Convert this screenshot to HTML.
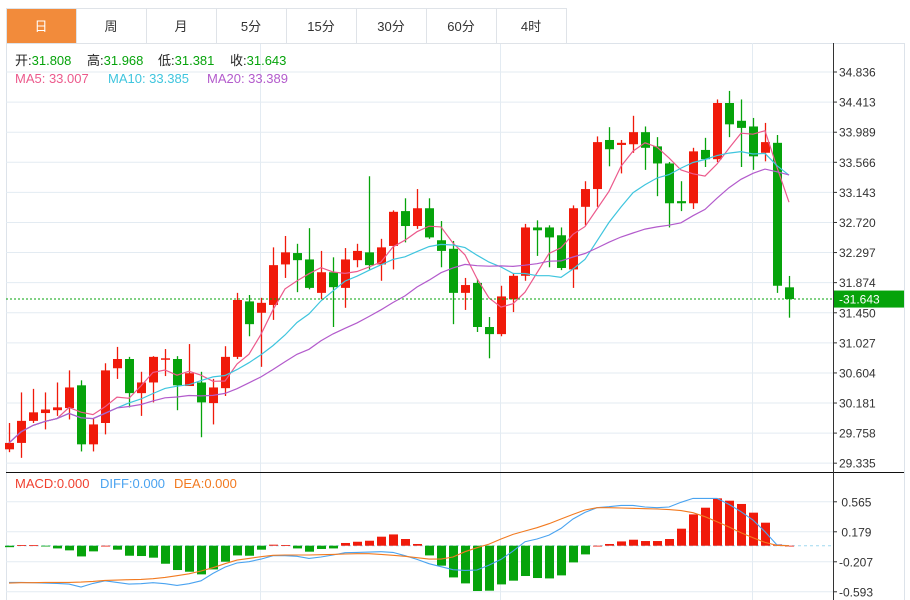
<!DOCTYPE html>
<html><head><meta charset="utf-8"><style>
body{margin:0;background:#fff;font-family:"Liberation Sans","Noto Sans CJK SC",sans-serif;}
svg{display:block}
</style></head><body>
<svg id="c" width="910" height="600" xmlns="http://www.w3.org/2000/svg" font-family="Liberation Sans, Noto Sans CJK SC, sans-serif"></svg>
<script>
const opens=[29.53,29.62,29.93,30.04,30.08,30.11,30.43,29.60,29.90,30.67,30.80,30.32,30.47,30.80,30.80,30.42,30.47,30.18,30.39,30.83,31.61,31.45,31.56,32.13,32.29,32.20,31.73,32.02,31.80,32.19,32.30,32.13,32.39,32.88,32.67,32.92,32.47,32.35,31.73,31.87,31.25,31.15,31.64,31.97,32.65,32.65,32.54,32.06,32.94,33.19,33.88,33.81,33.82,33.99,33.79,33.55,33.02,32.99,33.74,33.61,34.40,34.15,34.07,33.70,33.84,31.808];
const highs=[29.90,30.33,30.38,30.33,30.47,30.64,30.50,29.97,30.74,30.97,30.83,30.62,30.84,30.94,30.84,31.01,30.62,30.52,30.98,31.73,31.70,31.66,32.37,32.53,32.42,32.64,32.32,32.23,32.36,32.42,33.37,32.49,32.89,33.06,33.19,33.06,32.74,32.46,31.94,31.92,31.39,31.83,32.01,32.70,32.75,32.68,32.65,32.96,33.30,33.93,34.06,33.88,34.22,34.07,33.92,33.57,33.30,33.77,33.91,34.45,34.57,34.45,34.19,34.12,33.95,31.968];
const lows=[29.49,29.41,29.90,29.81,30.00,29.95,29.50,29.50,29.74,30.52,30.12,30.00,30.19,30.56,30.08,30.52,29.70,29.88,30.28,30.80,31.12,30.69,31.35,31.94,31.74,31.78,31.64,31.25,31.52,32.09,32.06,31.90,32.06,32.44,32.63,32.49,32.09,31.29,31.49,31.18,30.81,31.12,31.46,31.90,32.25,32.09,32.05,31.80,32.68,32.94,33.51,33.41,33.70,33.46,33.09,32.65,32.88,32.91,33.50,33.57,33.92,33.50,33.46,33.58,31.73,31.381];
const closes=[29.62,29.93,30.05,30.09,30.12,30.40,29.60,29.88,30.64,30.80,30.32,30.47,30.83,30.81,30.43,30.60,30.19,30.40,30.83,31.63,31.29,31.59,32.12,32.30,32.19,31.80,32.02,31.81,32.20,32.32,32.12,32.37,32.87,32.67,32.92,32.51,32.32,31.73,31.84,31.25,31.15,31.68,31.97,32.65,32.61,32.51,32.08,32.92,33.19,33.85,33.75,33.84,33.99,33.77,33.55,32.99,32.99,33.72,33.61,34.40,34.10,34.05,33.65,33.85,31.83,31.643];
const diffVals=[-0.472,-0.472,-0.476,-0.481,-0.485,-0.494,-0.532,-0.485,-0.451,-0.472,-0.494,-0.489,-0.476,-0.489,-0.511,-0.489,-0.451,-0.356,-0.275,-0.223,-0.206,-0.172,-0.129,-0.129,-0.137,-0.163,-0.146,-0.120,-0.090,-0.086,-0.082,-0.077,-0.086,-0.129,-0.176,-0.232,-0.270,-0.309,-0.318,-0.313,-0.249,-0.176,-0.069,0.052,0.086,0.137,0.223,0.343,0.429,0.489,0.502,0.519,0.519,0.498,0.489,0.498,0.558,0.609,0.609,0.609,0.532,0.438,0.330,0.180,0.009,0.000];
const deaVals=[-0.481,-0.476,-0.476,-0.472,-0.472,-0.472,-0.468,-0.459,-0.446,-0.442,-0.438,-0.433,-0.425,-0.408,-0.386,-0.361,-0.326,-0.283,-0.232,-0.185,-0.163,-0.142,-0.124,-0.120,-0.120,-0.120,-0.116,-0.112,-0.107,-0.103,-0.103,-0.112,-0.124,-0.137,-0.155,-0.172,-0.172,-0.146,-0.077,-0.026,0.021,0.086,0.146,0.189,0.232,0.283,0.343,0.403,0.459,0.489,0.489,0.485,0.481,0.476,0.472,0.464,0.451,0.425,0.373,0.309,0.240,0.167,0.103,0.043,0.004,0.000];
const macdVals=[-0.019,0.009,0.006,-0.006,-0.035,-0.060,-0.138,-0.073,0,-0.051,-0.129,-0.133,-0.154,-0.232,-0.313,-0.335,-0.369,-0.305,-0.206,-0.125,-0.129,-0.051,0.013,0.009,-0.035,-0.077,-0.042,-0.035,0.035,0.051,0.064,0.116,0.145,0.086,0.022,-0.125,-0.257,-0.408,-0.485,-0.583,-0.579,-0.498,-0.450,-0.390,-0.416,-0.421,-0.382,-0.215,-0.112,0,0.022,0.055,0.077,0.060,0.060,0.086,0.219,0.403,0.489,0.609,0.579,0.537,0.425,0.296,0.017,0];
const priceTicks=[34.836,34.413,33.989,33.566,33.143,32.720,32.297,31.874,31.450,31.027,30.604,30.181,29.758,29.335];
const macdTicks=[0.565,0.179,-0.207,-0.593];
const tabLabels=["日","周","月","5分","15分","30分","60分","4时"];

const NS="http://www.w3.org/2000/svg";
const svg=document.getElementById('c');
function mk(tag,attrs,parent){const e=document.createElementNS(NS,tag);for(const k in attrs)e.setAttribute(k,attrs[k]);(parent||svg).appendChild(e);return e;}
const RED="#f01a0a",GREEN="#06a30b";
const L=6,R=833;
const yP=p=>72+(34.836-p)*(30.08/0.423);
const yM=v=>545.7-v*(30/0.386);
const xI=i=>9+i*12;

let fr=mk('rect',{x:6.5,y:43.5,width:898,height:560,fill:'none',stroke:'#dde3ea'});


priceTicks.forEach(t=>{let g=mk('line',{x1:L,x2:R,y1:yP(t),y2:yP(t),stroke:'#e3ebf2','stroke-width':1});

});
macdTicks.forEach(t=>{let g=mk('line',{x1:L,x2:R,y1:yM(t),y2:yM(t),stroke:'#e3ebf2'});

});
[260,500,752].forEach(x=>{let g=mk('line',{x1:x+0.5,x2:x+0.5,y1:43,y2:600,stroke:'#e3ebf2'});

});

tabLabels.forEach((t,i)=>{const x=6+i*70;
 let r=mk('rect',{x:x+0.5,y:8.5,width:70,height:35,fill:i==0?'#f28b3b':'#fff',stroke:'#dfe3e8'});
 
 
 let tx=mk('text',{x:x+35,y:31,'text-anchor':'middle','font-size':13,fill:i==0?'#fff':'#333'});tx.textContent=t;
 
 
});

function legend(parts,y,name){let t=mk('text',{y:y,'font-size':13});
 parts.forEach(([s,c,x])=>{let a={fill:c};if(x!==undefined)a.x=x;let ts=mk('tspan',a,t);ts.textContent=s;});}
legend([["开:","#222",15],["31.808",GREEN],["高:","#222",87],["31.968",GREEN],["低:","#222",158],["31.381",GREEN],["收:","#222",230],["31.643",GREEN]],65,'ohlc-legend');
legend([["MA5: 33.007","#ec5a8c",15],["MA10: 33.385","#3fc5de",108],["MA20: 33.389","#b35bcc",207]],83,'ma-legend');
legend([["MACD:0.000","#f0402f",15],["DIFF:0.000","#4aa3f0",100],["DEA:0.000","#f27a20",174]],488,'macd-legend');

closes.forEach((c,i)=>{const o=opens[i],up=c>=o,col=up?RED:GREEN,x=xI(i);
 let w=mk('line',{x1:x+0.5,x2:x+0.5,y1:yP(highs[i]),y2:yP(lows[i]),stroke:col,'stroke-width':1.3});
 
 
 const top=yP(Math.max(o,c)),bot=yP(Math.min(o,c));
 let b=mk('rect',{x:x-4,y:top,width:9,height:Math.max(1.5,bot-top),fill:col});
 
 
});
function ma(n){return closes.map((_,i)=>{const s=closes.slice(Math.max(0,i-n+1),i+1);return s.reduce((a,b)=>a+b,0)/s.length;});}
[[5,'#ec5a8c'],[10,'#3fc5de'],[20,'#b35bcc']].forEach(([n,c])=>{
 const d=ma(n).map((v,i)=>(i?'L':'M')+xI(i)+','+yP(v).toFixed(1)).join('');
 let p=mk('path',{d:d,fill:'none',stroke:c,'stroke-width':1.2});
 
 
});
const lastY=yP(closes[closes.length-1]);
let lp=mk('line',{x1:L,x2:R,y1:lastY,y2:lastY,stroke:GREEN,'stroke-dasharray':'2,2'});



let zl=mk('line',{x1:L,x2:R,y1:yM(0),y2:yM(0),stroke:'#9fd8ef','stroke-dasharray':'3,3'});


macdVals.forEach((v,i)=>{const y0=yM(0),y1=yM(v);
 let b=mk('rect',{x:xI(i)-4,y:Math.min(y0,y1),width:9,height:Math.max(0.8,Math.abs(y1-y0)),fill:v>=0?RED:GREEN});
 
 
});
[[diffVals,'#4aa3f0','diff-line'],[deaVals,'#f27a20','dea-line']].forEach(([arr,c,n])=>{
 const d=arr.map((v,i)=>(i?'L':'M')+xI(i)+','+yM(v).toFixed(1)).join('');
 let p=mk('path',{d:d,fill:'none',stroke:c,'stroke-width':1.1});
 
 
});

let sp=mk('line',{x1:6,x2:904,y1:472.5,y2:472.5,stroke:'#111','stroke-width':1});


let ax=mk('line',{x1:R+0.5,x2:R+0.5,y1:43,y2:600,stroke:'#333'});


priceTicks.forEach(t=>{const y=yP(t);
 mk('line',{x1:R,x2:R+4,y1:y,y2:y,stroke:'#333'});
 let tx=mk('text',{x:839,y:y+4.5,'font-size':12,fill:'#333'});tx.textContent=t.toFixed(3);
 
 
});
macdTicks.forEach(t=>{const y=yM(t);
 mk('line',{x1:R,x2:R+4,y1:y,y2:y,stroke:'#333'});
 let tx=mk('text',{x:839,y:y+4.5,'font-size':12,fill:'#333'});tx.textContent=(t<0?'':'\u2009')+t.toFixed(3);
 
 
});
let tag=mk('rect',{x:834,y:lastY-8.5,width:70,height:17,fill:GREEN});


let tt=mk('text',{x:839,y:lastY+4.5,'font-size':12,fill:'#fff'});tt.textContent='-'+closes[closes.length-1].toFixed(3);


</script>
</body></html>
